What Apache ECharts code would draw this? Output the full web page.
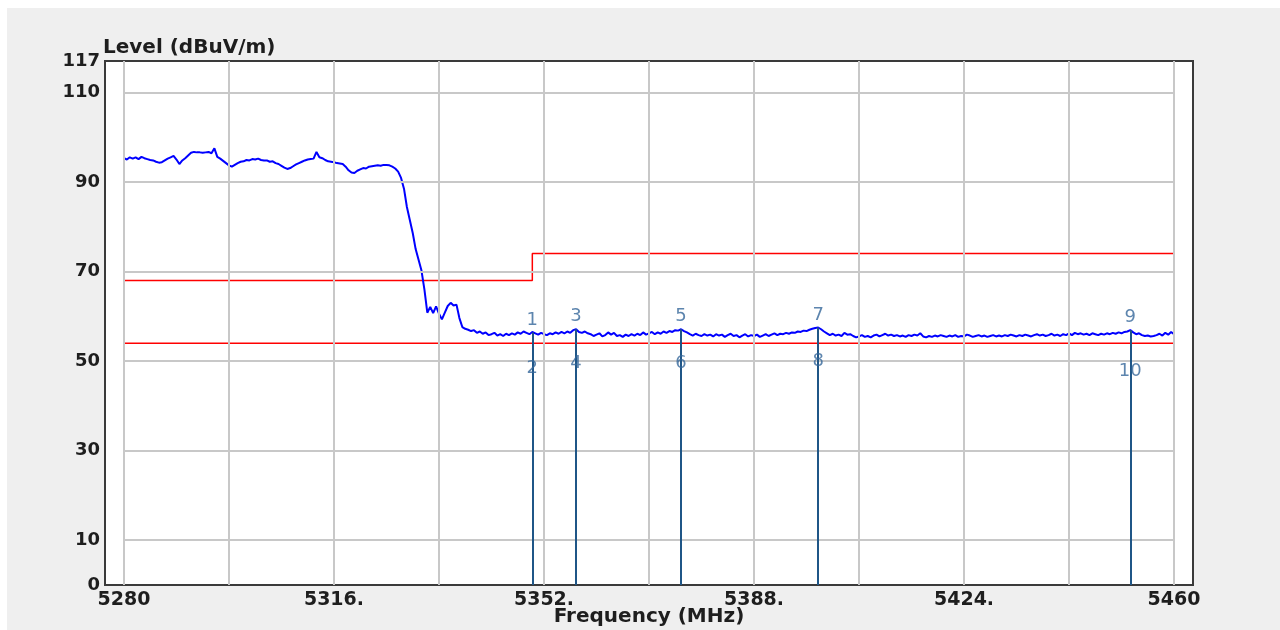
<!DOCTYPE html>
<html><head><meta charset="utf-8">
<script src="https://cdn.jsdelivr.net/npm/echarts@6/dist/echarts.min.js"></script>
<style>
html,body{margin:0;padding:0;background:#fff;}
#bg{position:absolute;left:7px;top:8px;width:1273px;height:622px;background:#efefef;}
#chart{position:absolute;left:0;top:0;width:1280px;height:630px;}
</style></head><body><div id="bg"></div><div id="chart"></div>
<script>
// Spectrum trace: first frequency and sweep step (MHz), levels in dBuV/m
const freqStart = 5280, freqStep = 0.5;
const levels = [
95.3,95.0,95.5,95.2,95.5,95.1,95.6,95.3,95.1,94.9,
94.8,94.5,94.3,94.4,94.8,95.2,95.5,95.8,95.0,94.0,
94.8,95.3,95.9,96.5,96.7,96.6,96.6,96.5,96.6,96.7,
96.4,97.5,95.6,95.2,94.7,94.2,93.7,93.4,93.8,94.2,
94.5,94.6,94.9,94.8,95.1,95.0,95.2,94.9,94.8,94.8,
94.5,94.6,94.2,94.0,93.6,93.2,92.9,93.1,93.5,93.9,
94.2,94.5,94.8,95.0,95.1,95.2,96.7,95.5,95.3,94.9,
94.6,94.5,94.4,94.2,94.1,94.0,93.4,92.6,92.1,92.0,
92.5,92.8,93.1,93.0,93.4,93.5,93.6,93.7,93.6,93.8,
93.8,93.7,93.4,93.0,92.3,90.9,88.5,84.4,81.5,78.6,
75.0,72.6,70.2,66.0,60.8,62.1,60.7,62.2,60.6,59.3,
60.8,62.3,63.0,62.4,62.6,59.6,57.6,57.2,57.0,56.7,
56.9,56.3,56.6,56.1,56.4,55.8,56.0,56.3,55.7,56.0,
55.6,56.1,55.8,56.2,55.9,56.4,56.1,56.6,56.3,56.0,
56.5,56.2,55.9,56.3,56.0,55.8,56.2,56.0,56.4,56.1,
56.5,56.2,56.6,56.3,56.9,57.1,56.5,56.3,56.6,56.2,
56.0,55.6,55.9,56.2,55.5,55.8,56.4,55.9,56.3,55.6,
55.8,55.4,55.9,55.6,56.0,55.7,56.1,55.8,56.4,55.9,
56.2,56.5,56.0,56.4,56.1,56.6,56.3,56.7,56.5,56.9,
56.8,57.1,56.7,56.4,56.0,55.7,56.1,55.8,55.6,56.0,
55.7,55.9,55.5,56.0,55.7,55.9,55.4,55.8,56.1,55.6,
55.8,55.3,55.7,56.0,55.5,55.8,55.6,55.9,55.4,55.7,
56.0,55.6,55.9,56.2,55.8,56.1,56.0,56.3,56.1,56.4,
56.3,56.6,56.5,56.8,56.7,57.0,57.2,57.4,57.5,57.1,
56.6,56.2,55.8,56.1,55.7,55.9,55.6,56.3,55.9,56.0,
55.6,55.3,55.5,55.8,55.4,55.6,55.3,55.7,55.9,55.5,
55.8,56.1,55.7,55.9,55.6,55.8,55.5,55.7,55.4,55.8,
55.6,55.9,55.7,56.2,55.5,55.3,55.6,55.4,55.7,55.5,
55.8,55.6,55.4,55.7,55.5,55.8,55.4,55.6,55.5,55.9,
55.7,55.4,55.6,55.8,55.5,55.7,55.4,55.6,55.8,55.5,
55.7,55.5,55.8,55.6,55.9,55.7,55.5,55.8,55.6,55.9,
55.7,55.5,55.8,56.0,55.7,55.9,55.6,55.8,56.1,55.7,
55.9,55.6,56.0,55.8,56.2,55.8,56.3,56.0,56.2,55.9,
56.1,55.8,56.2,56.0,55.8,56.1,55.9,56.2,56.0,56.3,
56.1,56.4,56.2,56.5,56.6,56.9,56.4,56.0,56.2,55.8,
55.6,55.7,55.5,55.6,55.8,56.1,55.7,56.3,55.9,56.5,
56.0
];
// Limit lines
const limitFreqs = [5280, 5350, 5350, 5460];
const limitLevels = [68, 68, 74, 74];
const limit2Freqs = [5280, 5460];
const limit2Levels = [54, 54];
// Markers
const markerFreqs = [5350.0, 5357.5, 5375.5, 5399.0, 5452.5];
const markerPeaks = [56.4, 57.1, 57.1, 57.5, 56.9];
const markerAvgs = [48.4, 49.6, 49.6, 50.0, 47.6];
const markerPeakLabels = ['1', '3', '5', '7', '9'];
const markerAvgLabels = ['2', '4', '6', '8', '10'];
// Axes
const xTickLabels = [5280, 5316, 5352, 5388, 5424, 5460];
const xGridFreqs = [5280, 5298, 5316, 5334, 5352, 5370, 5388, 5406, 5424, 5442, 5460];
const yTickLabels = [0, 10, 30, 50, 70, 90, 110, 117];
const yGridLevels = [10, 30, 50, 70, 90, 110];

const traceData = levels.map((v, i) => [freqStart + i * freqStep, v]);
const FONT = 'DejaVu Sans';
const xTxt = {fontFamily: FONT, fontWeight: 'bold', fontSize: 19, color: '#1e1e1e'};
const yTxt = {fontFamily: FONT, fontWeight: 'bold', fontSize: 18, color: '#1e1e1e'};
const nameTxt = {fontFamily: FONT, fontWeight: 'bold', fontSize: 20, color: '#1e1e1e'};

const chart = echarts.init(document.getElementById('chart'), null, {renderer: 'canvas'});
chart.setOption({
  animation: false,
  backgroundColor: 'transparent',
  grid: {left: 105, right: 87, top: 61, bottom: 45, show: true, backgroundColor: '#ffffff',
         borderColor: '#3a3a3a', borderWidth: 2, containLabel: false, outerBoundsMode: 'none'},
  xAxis: {
    type: 'value', min: 5276.75, max: 5463.25,
    axisLine: {show: false}, axisTick: {show: false}, splitLine: {show: false},
    axisLabel: Object.assign({customValues: xTickLabels, margin: 6,
      formatter: v => (v === xTickLabels[0] || v === xTickLabels[xTickLabels.length - 1]) ? String(v) : v + '.'}, xTxt),
    name: 'Frequency (MHz)', nameLocation: 'middle', nameGap: 22, nameMoveOverlap: false,
    nameTextStyle: Object.assign({}, nameTxt)
  },
  yAxis: {
    type: 'value', min: 0, max: 117,
    axisLine: {show: false}, axisTick: {show: false}, splitLine: {show: false},
    axisLabel: Object.assign({customValues: yTickLabels, margin: 5}, yTxt),
    name: 'Level (dBuV/m)', nameLocation: 'end', nameGap: 3, nameMoveOverlap: false,
    nameTextStyle: Object.assign({align: 'left', verticalAlign: 'bottom', padding: [0, 0, 0, -2]}, nameTxt)
  },
  series: [
    { // grid lines
      type: 'line', data: [], z: 1, silent: true,
      markLine: {
        silent: true, symbol: ['none', 'none'], label: {show: false},
        lineStyle: {color: '#c8c8c8', width: 2, type: 'solid'},
        data: xGridFreqs.map(v => ({xAxis: v})).concat(
          yGridLevels.map(v => [{coord: [xGridFreqs[0], v]}, {coord: [xGridFreqs[xGridFreqs.length - 1], v]}]))
      }
    },
    { type: 'line', data: limitFreqs.map((f, i) => [f, limitLevels[i]]), showSymbol: false, z: 2,
      lineStyle: {color: '#ff0000', width: 1.5} },
    { type: 'line', data: limit2Freqs.map((f, i) => [f, limit2Levels[i]]), showSymbol: false, z: 2,
      lineStyle: {color: '#ff0000', width: 1.5} },
    { type: 'line', data: traceData, showSymbol: false, z: 3,
      lineStyle: {color: '#0000ff', width: 2} },
    { // marker peaks with vertical lines
      type: 'scatter', z: 4, symbolSize: 1, itemStyle: {color: 'rgba(0,0,0,0)'},
      data: markerFreqs.map((f, i) => [f, markerPeaks[i]]),
      label: {show: true, position: 'top', distance: 3, formatter: p => markerPeakLabels[p.dataIndex],
        fontFamily: FONT, fontSize: 18, color: '#34679a'},
      markLine: {
        silent: true, symbol: ['none', 'none'], label: {show: false},
        lineStyle: {color: '#1f5687', width: 2, type: 'solid'},
        data: markerFreqs.map((f, i) => [{coord: [f, 0]}, {coord: [f, markerPeaks[i]]}])
      }
    },
    { // marker average labels
      type: 'scatter', z: 5, symbolSize: 1, itemStyle: {color: 'rgba(0,0,0,0)'},
      data: markerFreqs.map((f, i) => [f, markerAvgs[i]]),
      label: {show: true, position: 'inside', formatter: p => markerAvgLabels[p.dataIndex],
        fontFamily: FONT, fontSize: 18, color: '#34679a'}
    }
  ]
});
</script></body></html>
